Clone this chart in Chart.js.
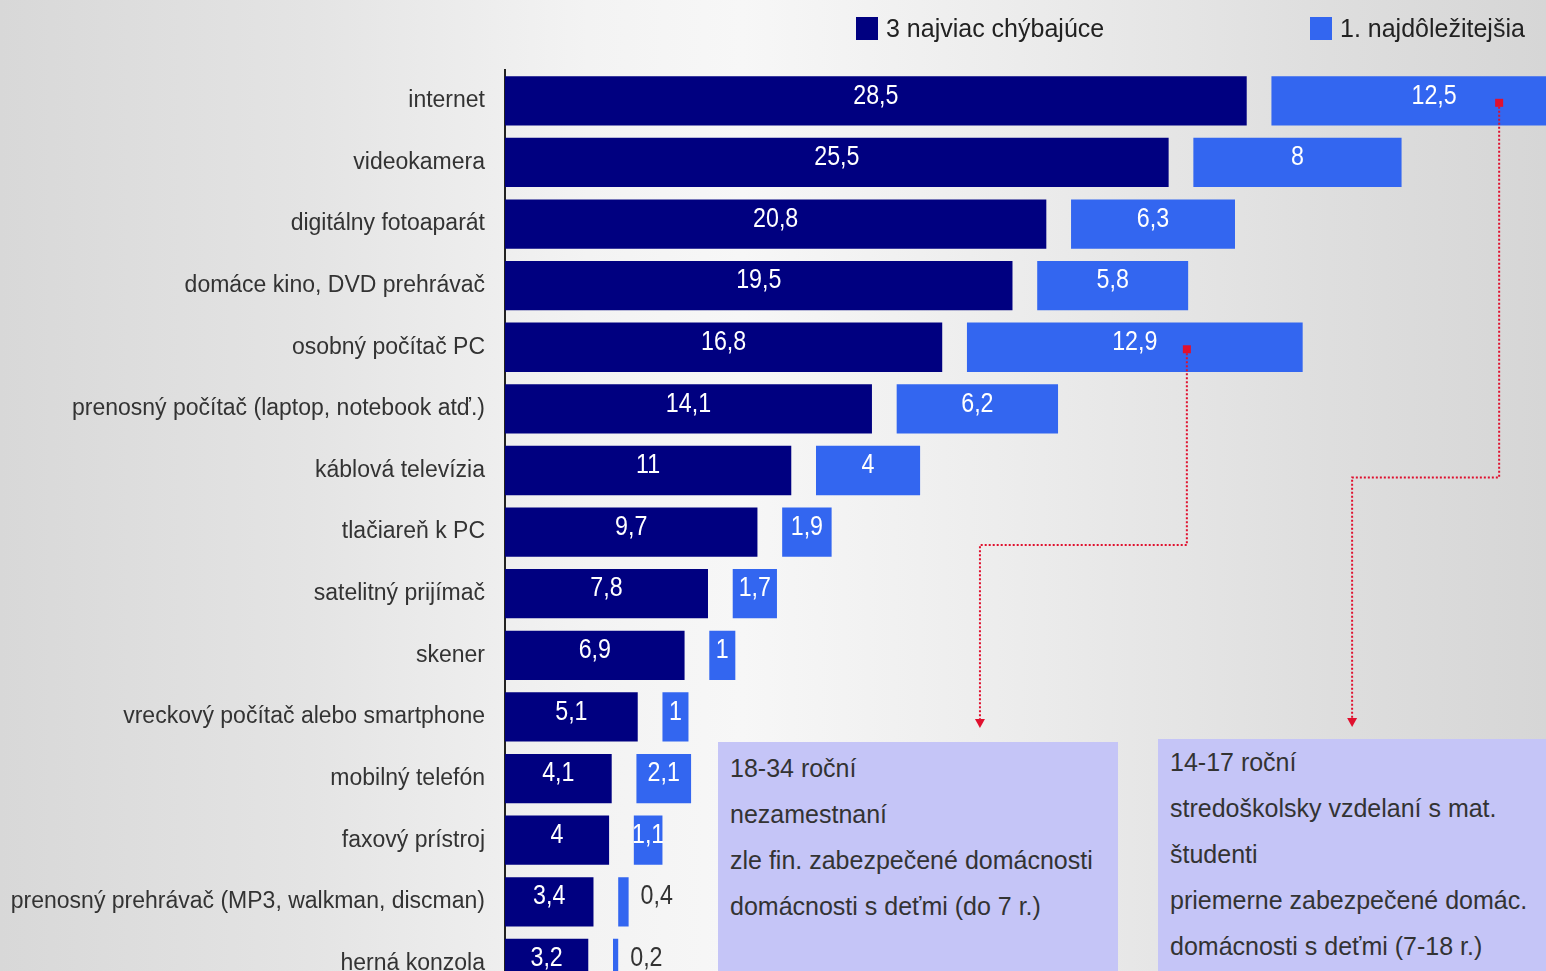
<!DOCTYPE html>
<html>
<head>
<meta charset="utf-8">
<script src="https://cdn.jsdelivr.net/npm/chart.js@4"></script>
<style>
  html, body { margin:0; padding:0; width:1546px; height:971px; overflow:hidden; }
  body { background: linear-gradient(to right, #d8d8d8 0%, #e4e4e4 20%, #f3f3f3 38%, #f7f7f7 48%, #ececec 66%, #dedede 86%, #d6d6d6 100%);
    font-family: "Liberation Sans", Arial, sans-serif; position:relative; }
  #wrap { position:absolute; left:0; top:0; width:1546px; height:1028px; }
  .legend { position:absolute; top:14px; font-size:25px; color:#222; display:flex; align-items:center; white-space:nowrap; }
  .legend i { display:inline-block; width:22px; height:23px; margin-right:8px; }
  .note { position:absolute; background:#c5c5f7; color:#333; font-size:25px; line-height:46px; padding:0 12px; box-sizing:border-box; }
</style>
</head>
<body>
<div id="wrap"><canvas id="chart" width="1546" height="1028"></canvas></div>
<div class="legend" style="left:856px"><i style="background:#000080"></i>3 najviac chýbajúce</div>
<div class="legend" style="left:1310px"><i style="background:#3366f0"></i>1. najdôležitejšia</div>
<div class="note" style="left:718px;top:742px;width:400px;height:240px;padding-top:3px">18-34 roční<br>nezamestnaní<br>zle fin. zabezpečené domácnosti<br>domácnosti s deťmi (do 7 r.)</div>
<div class="note" style="left:1158px;top:739px;width:390px;height:240px;padding-top:0">14-17 roční<br>stredoškolsky vzdelaní s mat.<br>študenti<br>priemerne zabezpečené domác.<br>domácnosti s deťmi (7-18 r.)</div>
<script>
const categories = ['internet', 'videokamera', 'digitálny fotoaparát', 'domáce kino, DVD prehrávač',
  'osobný počítač PC', 'prenosný počítač (laptop, notebook atď.)', 'káblová televízia', 'tlačiareň k PC',
  'satelitný prijímač', 'skener', 'vreckový počítač alebo smartphone', 'mobilný telefón', 'faxový prístroj',
  'prenosný prehrávač (MP3, walkman, discman)', 'herná konzola'];
const top3 = [28.5, 25.5, 20.8, 19.5, 16.8, 14.1, 11, 9.7, 7.8, 6.9, 5.1, 4.1, 4, 3.4, 3.2];
const first = [12.5, 8, 6.3, 5.8, 12.9, 6.2, 4, 1.9, 1.7, 1, 1, 2.1, 1.1, 0.4, 0.2];
const GAP = 0.95;   // space between the two bars of a row, in axis units
const X_MAX = 40;

const NAVY = '#000080', BLUE = '#3366f0', RED = '#e0102e';
const FONT = '"Liberation Sans", Arial, sans-serif';
const fmtDec = v => String(v).replace('.', ',');

// red dotted connectors from a blue bar down to a note box
const connectors = [
  { row: 4, xv: 26.2, turnRow: 7, turnOff: 13, dropX: 18.25, endY: 728 },
  { row: 0, xv: 38.2, turnRow: 6, turnOff: 7, dropX: 32.55, endY: 727 },
];

// narrow-looking value text: larger font squeezed horizontally
function narrowText(ctx, txt, px, py, align) {
  const k = 0.83;
  ctx.save();
  ctx.translate(px, py);
  ctx.scale(k, 1);
  ctx.textAlign = align;
  ctx.fillText(txt, 0, 0);
  ctx.restore();
}

const labelsPlugin = {
  id: 'labels',
  afterDatasetsDraw(chart) {
    const ctx = chart.ctx, x = chart.scales.x, y = chart.scales.y;
    ctx.save();
    ctx.textBaseline = 'middle';
    ctx.font = '28px ' + FONT;
    chart.data.datasets.forEach((ds, di) => {
      ds.data.forEach((d, i) => {
        const yp = y.getPixelForValue(i) - 5;
        const val = di === 0 ? top3[i] : first[i];
        const x0 = x.getPixelForValue(d[0]), x1 = x.getPixelForValue(d[1]);
        if (val < 0.5) {
          ctx.fillStyle = '#333';
          narrowText(ctx, fmtDec(val), x1 + 12, yp, 'left');
        } else {
          ctx.fillStyle = '#fff';
          narrowText(ctx, fmtDec(val), (x0 + x1) / 2, yp, 'center');
        }
      });
    });
    connectors.forEach(c => {
      const sx = x.getPixelForValue(c.xv), sy = y.getPixelForValue(c.row) + 2;
      const ty = y.getPixelForValue(c.turnRow) + c.turnOff;
      const dx = x.getPixelForValue(c.dropX);
      ctx.strokeStyle = RED; ctx.lineWidth = 2; ctx.setLineDash([2, 2]);
      ctx.beginPath();
      ctx.moveTo(sx, sy); ctx.lineTo(sx, ty); ctx.lineTo(dx, ty); ctx.lineTo(dx, c.endY - 8);
      ctx.stroke();
      ctx.setLineDash([]);
      ctx.fillStyle = RED;
      ctx.fillRect(sx - 4, sy - 4, 8, 8);
      ctx.beginPath();
      ctx.moveTo(dx - 5, c.endY - 9); ctx.lineTo(dx + 5, c.endY - 9); ctx.lineTo(dx, c.endY); ctx.closePath();
      ctx.fill();
    });
    ctx.restore();
  }
};

new Chart(document.getElementById('chart'), {
  type: 'bar',
  data: {
    labels: categories,
    datasets: [
      { label: '3 najviac chýbajúce', data: top3.map(v => [0, v]), backgroundColor: NAVY, grouped: false,
        categoryPercentage: 1, barPercentage: 0.8 },
      { label: '1. najdôležitejšia', data: first.map((v, i) => [top3[i] + GAP, top3[i] + GAP + v]), backgroundColor: BLUE, grouped: false,
        categoryPercentage: 1, barPercentage: 0.8 },
    ]
  },
  options: {
    indexAxis: 'y',
    responsive: false,
    animation: false,
    layout: { padding: { top: 70, bottom: 8, left: 0, right: 0 } },
    plugins: { legend: { display: false }, tooltip: { enabled: false } },
    scales: {
      x: { display: false, min: 0, max: X_MAX },
      y: {
        grid: { display: false, drawTicks: false },
        border: { display: true, color: '#222', width: 2 },
        ticks: { color: '#333', font: { family: FONT, size: 23 }, padding: 20 },
        afterFit(s) { s.width = 505; }
      }
    }
  },
  plugins: [labelsPlugin]
});
</script>
</body>
</html>
